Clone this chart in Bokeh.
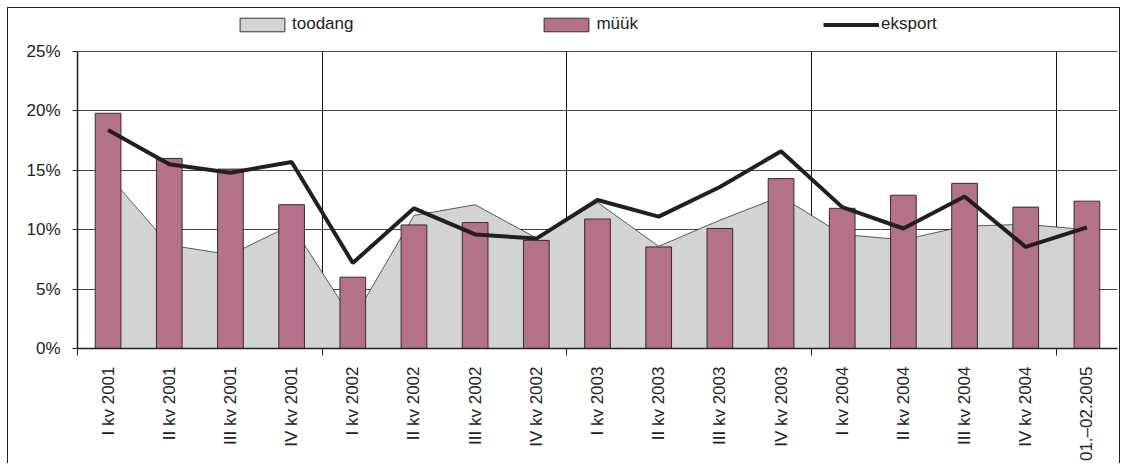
from math import pi
from bokeh.plotting import figure
from bokeh.models import (Range1d, FixedTicker, PrintfTickFormatter, Legend,
                          LegendItem)
from bokeh.embed import file_html
from bokeh.resources import INLINE

categories = ["I kv 2001", "II kv 2001", "III kv 2001", "IV kv 2001",
              "I kv 2002", "II kv 2002", "III kv 2002", "IV kv 2002",
              "I kv 2003", "II kv 2003", "III kv 2003", "IV kv 2003",
              "I kv 2004", "II kv 2004", "III kv 2004", "IV kv 2004",
              "01.\u201302.2005"]
toodang = [14.6, 8.7, 7.9, 10.4, 2.4, 11.2, 12.1, 9.3, 12.3, 8.6, 10.8, 12.8,
           9.6, 9.15, 10.3, 10.45, 10.0]
muuk = [19.8, 16.0, 15.1, 12.1, 6.0, 10.4, 10.6, 9.1, 10.9, 8.55, 10.1, 14.3,
        11.8, 12.9, 13.9, 11.9, 12.4]
eksport = [18.4, 15.5, 14.8, 15.7, 7.2, 11.8, 9.6, 9.25, 12.5, 11.1, 13.6, 16.6,
           11.9, 10.1, 12.8, 8.55, 10.2]
y_ticks = [0, 5, 10, 15, 20, 25]
year_bounds = [0, 4, 8, 12, 16]

FONT = "Liberation Sans"
n = len(categories)
x = [i + 0.5 for i in range(n)]
Y_MAX = y_ticks[-1]
Y_TOP = 28.45  # headroom above the plot box that holds the legend

p = figure(width=1113, height=456, x_range=Range1d(0, n),
           y_range=Range1d(0, Y_TOP),
           output_backend="svg", toolbar_location=None,
           min_border_left=69, min_border_right=4, min_border_top=2,
           min_border_bottom=100)
p.styles = {"margin-left": "7px", "margin-top": "7px",
            "border-left": "1px solid #222", "border-top": "1px solid #222",
            "border-right": "1px solid #222"}
p.background_fill_color = "white"
p.border_fill_color = "white"
p.outline_line_color = None

# area (toodang)
p.varea(x=x, y1=[0] * n, y2=toodang, fill_color="#D2D3D5")
p.line(x=x, y=toodang, line_color="#333333", line_width=0.8)
legend_area = p.quad(left=[-5], right=[-4], top=[-5], bottom=[-6],
                     fill_color="#D2D3D5", line_color="#333333", line_width=1)

# bars (müük)
bars = p.vbar(x=x, top=muuk, width=0.42, fill_color="#B4718A",
              line_color="#3A2A30", line_width=1)

# line (eksport)
ln = p.line(x=x, y=eksport, line_color="#231F20", line_width=4)

# axes
xa = p.xaxis[0]
xa.ticker = FixedTicker(ticks=x, minor_ticks=year_bounds)
xa.major_label_overrides = {xi: c for xi, c in zip(x, categories)}
xa.major_tick_out = 0
xa.major_tick_in = 0
xa.minor_tick_out = 7
xa.minor_tick_in = 0
xa.minor_tick_line_color = "#222222"
xa.major_label_orientation = pi / 2
xa.major_label_text_font = FONT
xa.major_label_text_font_size = "17px"
xa.major_label_text_color = "#222222"
xa.major_label_standoff = 11
xa.axis_line_color = "#222222"
xa.axis_line_width = 1.5

ya = p.yaxis[0]
ya.ticker = FixedTicker(ticks=y_ticks, minor_ticks=[])
ya.bounds = (0, Y_MAX)
ya.formatter = PrintfTickFormatter(format="%d%%")
ya.major_tick_out = 5
ya.major_tick_in = 0
ya.major_tick_line_color = "#222222"
ya.major_label_text_font = FONT
ya.major_label_text_font_size = "17px"
ya.major_label_text_color = "#222222"
ya.major_label_standoff = 12
ya.axis_line_color = "#222222"
ya.axis_line_width = 1.5

p.xgrid.ticker = FixedTicker(ticks=year_bounds[1:] + [n])
p.xgrid.cross_bounds = (0, Y_MAX)
p.xgrid.grid_line_color = "#111111"
p.xgrid.grid_line_width = 1
p.ygrid.grid_line_color = "#444444"
p.ygrid.grid_line_width = 1

legend = Legend(items=[LegendItem(label="toodang", renderers=[legend_area]),
                       LegendItem(label="m\u00fc\u00fck", renderers=[bars]),
                       LegendItem(label="eksport", renderers=[ln])],
                orientation="horizontal", location=(157, 314),
                glyph_width=56, glyph_height=17, label_standoff=2, spacing=185,
                padding=0, margin=0, border_line_alpha=0,
                background_fill_alpha=0,
                label_text_font=FONT, label_text_font_size="17px",
                label_text_color="#222222")
p.add_layout(legend, "center")

open("out.html", "w").write(file_html(p, INLINE))
